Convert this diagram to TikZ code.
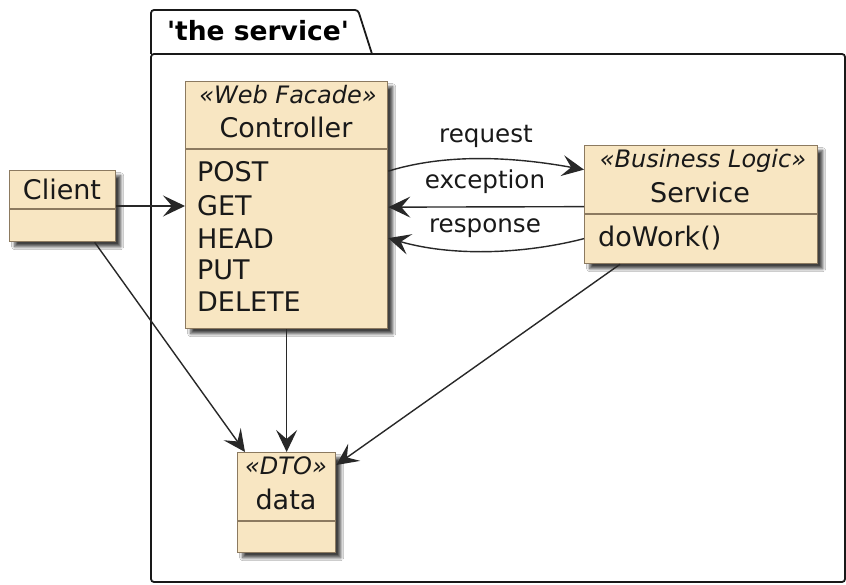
\documentclass[tikz,border=0pt]{standalone}
\usepackage{fontspec}
\setmainfont{DejaVu Sans}
\usetikzlibrary{arrows.meta,calc,shadows,shadows.blur}
\definecolor{boxfill}{RGB}{248,230,194}
\definecolor{boxline}{RGB}{140,122,96}
\definecolor{inkline}{RGB}{40,40,40}
\tikzset{
  umlbox/.style={draw=boxline, fill=boxfill, line width=1.3pt, anchor=north west, inner sep=0pt,
    blur shadow={shadow xshift=5pt, shadow yshift=-5pt, shadow blur radius=3pt, shadow blur steps=8, shadow opacity=75}},
  divline/.style={draw=boxline, line width=1.1pt},
  nametext/.style={font=\fontsize{27}{30}\selectfont, text=black!90, inner sep=0pt},
  stereo/.style={font=\fontsize{24}{27}\selectfont\itshape, text=black!90, inner sep=0pt},
  membertext/.style={font=\fontsize{27}{30}\selectfont, text=black!90, inner sep=0pt, anchor=west},
  edgelabel/.style={font=\fontsize{24.6}{28}\selectfont, text=black!90, inner sep=0pt},
  conn/.style={draw=inkline, line width=1.4pt, -{Stealth[length=22pt,width=21pt,inset=9pt]}},
}
\begin{document}
\begin{tikzpicture}[x=1pt,y=-1pt]
\useasboundingbox (0,0) rectangle (846,585);
\fill[white] (0,0) rectangle (846,585);
% package
\draw[line width=1.8pt, black!90, rounded corners=3pt]
  (151,54) -- (151,10) -- (358,10) -- (372,54);
\draw[line width=1.8pt, black!90, rounded corners=3pt]
  (151,54) -- (151,582) -- (845,582) -- (845,54) -- cycle;
\node[font=\fontsize{26.5}{30}\selectfont\bfseries, inner sep=0pt] (pkgtitle) at (258,31) {\textquotesingle the service\textquotesingle};

% Client
\node[umlbox, minimum width=106pt, minimum height=71pt] (client) at (9,170) {};
\draw[divline] (9,209) -- (115,209);
\node[nametext] (clientname) at (62,189) {Client};

% Controller
\node[umlbox, minimum width=202pt, minimum height=247pt] (ctrl) at (185,81) {};
\draw[divline] (185,149) -- (387,149);
\node[stereo] (ctrlst) at (288,95) {«Web Facade»};
\node[nametext] (ctrlname) at (286,127) {Controller};
\node[membertext] (m1) at (197,172) {POST};
\node[membertext] (m2) at (197,206) {GET};
\node[membertext] (m3) at (197,239) {HEAD};
\node[membertext] (m4) at (197,270) {PUT};
\node[membertext] (m5) at (197,302) {DELETE};

% Service
\node[umlbox, minimum width=233pt, minimum height=118pt] (svc) at (584,145) {};
\draw[divline] (584,214) -- (817,214);
\node[stereo] (svcst) at (703,161) {«Business Logic»};
\node[nametext] (svcname) at (700,192) {Service};
\node[membertext] (sm1) at (598,238) {doWork()};

% data
\node[umlbox, minimum width=98pt, minimum height=100pt] (data) at (237,452) {};
\draw[divline] (237,521) -- (335,521);
\node[stereo] (datast) at (286,466) {«DTO»};
\node[nametext] (dataname) at (286,499) {data};

% connectors
\draw[conn] (client.east |- 0,206) -- (ctrl.west |- 0,206);
\draw[conn] ($(ctrl.east)+(0,-34)$) .. controls (450,152) and (520,158) .. ($(svc.west)+(0,-35)$);
\node[edgelabel] (lreq) at (486,136) {request};
\draw[conn] ($(svc.west)+(0,2)$) -- ($(ctrl.east)+(0,2)$);
\node[edgelabel] (lexc) at (485,182) {exception};
\draw[conn] ($(svc.west)+(0,34)$) .. controls (520,255) and (450,256) .. ($(ctrl.east)+(0,33)$);
\node[edgelabel] (lresp) at (485,228) {response};
\draw[conn] ($(client.south)+(32,0)$) -- ($(data.north west)+(8,0)$);
\draw[conn] (ctrl.south) -- (data.north);
\draw[conn] ($(svc.south west)+(36,0)$) -- ($(data.north east)+(0,13)$);
\end{tikzpicture}
\end{document}
